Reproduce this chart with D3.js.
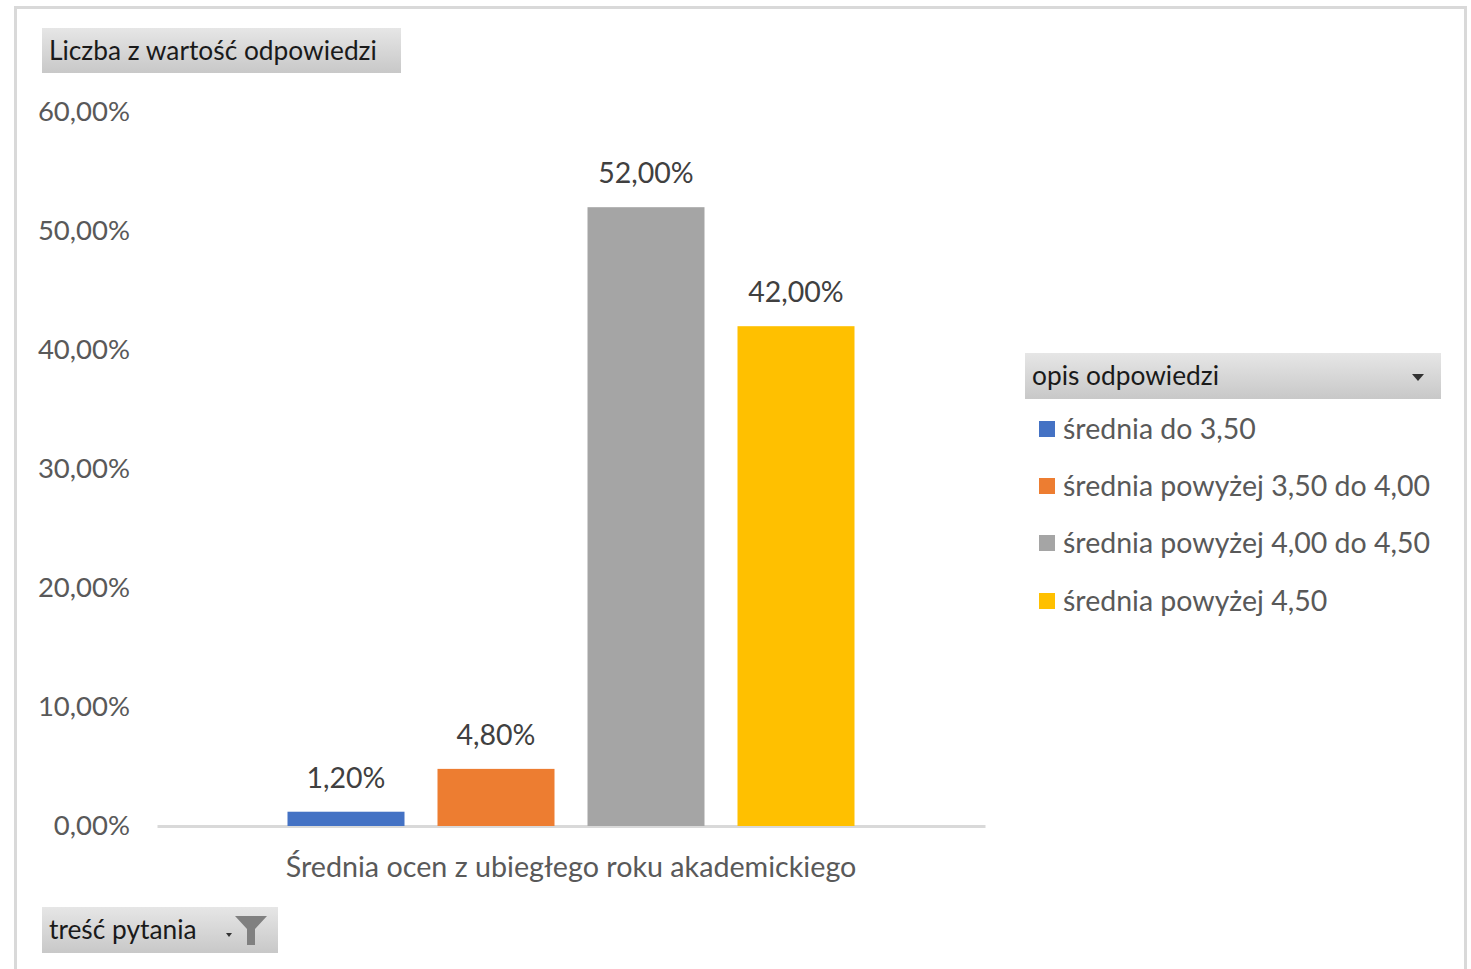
<!DOCTYPE html>
<html>
<head>
<meta charset="utf-8">
<script src="https://cdn.jsdelivr.net/npm/d3@7"></script>
<style>
  body { margin: 0; background: #fff; }
  text { font-family: Lato, "Open Sans", sans-serif; }
</style>
</head>
<body>
<div id="chart_area"></div>
<script>

// data
var category = "Średnia ocen z ubiegłego roku akademickiego";
var series = ["średnia do 3,50", "średnia powyżej 3,50 do 4,00", "średnia powyżej 4,00 do 4,50", "średnia powyżej 4,50"];
var values = [0.012, 0.048, 0.52, 0.42];
var colours = ["#4472c4", "#ed7d31", "#a5a5a5", "#ffc000"];
var y_ticks = [0, 0.1, 0.2, 0.3, 0.4, 0.5, 0.6];

var fmt = function (v) { return d3.format(".2f")(v * 100).replace(".", ",") + "%"; };

var frame_width = 1471, frame_height = 969;
var svg = d3.select("#chart_area").append("svg")
	.attr("width", frame_width)
	.attr("height", frame_height);

var defs = svg.append("defs");
var grad = defs.append("linearGradient").attr("id", "btn").attr("x1", 0).attr("y1", 0).attr("x2", 0).attr("y2", 1);
grad.append("stop").attr("offset", "0%").attr("stop-color", "#e6e6e6");
grad.append("stop").attr("offset", "100%").attr("stop-color", "#c8c8c8");

// outer frame
svg.append("rect")
	.attr("x", 15.5).attr("y", 7.5)
	.attr("width", 1450).attr("height", 980)
	.attr("fill", "#fff").attr("stroke", "#d9d9d9").attr("stroke-width", 3);

// plot area
var plot = {left: 157, right: 985, top: 112, bottom: 826};

var xScale = d3.scaleBand().domain([category]).range([plot.left, plot.right]);
var inner = d3.scaleBand().domain(series).range([0, xScale.bandwidth()]).paddingInner(0.22).paddingOuter(0.87);
var yScale = d3.scaleLinear().domain([0, 0.6]).range([plot.bottom, plot.top]);

// y axis labels
var yAxis = d3.axisLeft(yScale).tickValues(y_ticks).tickFormat(fmt).tickSize(0).tickPadding(0);
var yg = svg.append("g").attr("transform", "translate(130,0)").call(yAxis);
yg.select(".domain").remove();
yg.selectAll("text").attr("fill", "#595959").style("font-size", "27.5px").style("font-family", "Lato, sans-serif");

// baseline
var xAxis = d3.axisBottom(xScale).tickSize(0).tickPadding(31);
var xg = svg.append("g").attr("transform", "translate(0," + plot.bottom + ")").call(xAxis);
xg.select(".domain").attr("stroke", "#d9d9d9").attr("stroke-width", 3);
xg.selectAll("text").attr("fill", "#595959").style("font-size", "28.7px").style("font-family", "Lato, sans-serif");

// bars
var bars = svg.append("g");
bars.selectAll("rect").data(series).enter().append("rect")
	.attr("x", function (d) { return xScale(category) + inner(d); })
	.attr("y", function (d, i) { return yScale(values[i]); })
	.attr("width", inner.bandwidth())
	.attr("height", function (d, i) { return plot.bottom - yScale(values[i]); })
	.attr("fill", function (d, i) { return colours[i]; });

bars.selectAll("text").data(series).enter().append("text")
	.attr("x", function (d) { return xScale(category) + inner(d) + inner.bandwidth() / 2; })
	.attr("y", function (d, i) { return yScale(values[i]) - 24; })
	.attr("text-anchor", "middle")
	.attr("fill", "#404040")
	.style("font-size", "28.5px")
	.text(function (d, i) { return fmt(values[i]); });

// field buttons
function button(x, y, w, h, label) {
	var g = svg.append("g").attr("transform", "translate(" + x + "," + y + ")");
	g.append("rect").attr("width", w).attr("height", h).attr("fill", "url(#btn)");
	g.append("text").attr("x", 7).attr("y", h / 2 + 9)
		.attr("fill", "#1a1a1a").style("font-size", "26.3px").text(label);
	return g;
}
button(42, 28, 359, 45, "Liczba z wartość odpowiedzi");
var lh = button(1025, 353, 416, 46, "opis odpowiedzi");
lh.append("path").attr("d", "M387,21 L399,21 L393,28 Z").attr("fill", "#333");
var fb = button(42, 907, 236, 46, "treść pytania");
fb.append("path").attr("d", "M184,26 L190,26 L187,30 Z").attr("fill", "#333");
fb.append("path").attr("d", "M193,9 L225,9 L213,22 L213,38 L205,38 L205,22 Z").attr("fill", "#808080");

// legend
var legend = svg.append("g").attr("transform", "translate(1039,0)");
var items = legend.selectAll("g").data(series).enter().append("g")
	.attr("transform", function (d, i) { return "translate(0," + [429, 486, 543, 601][i] + ")"; });
items.append("rect").attr("x", 0).attr("y", -8).attr("width", 16).attr("height", 16)
	.attr("fill", function (d, i) { return colours[i]; });
items.append("text").attr("x", 24).attr("y", 10)
	.attr("fill", "#595959").style("font-size", "28.5px")
	.text(function (d) { return d; });

</script>
</body>
</html>
